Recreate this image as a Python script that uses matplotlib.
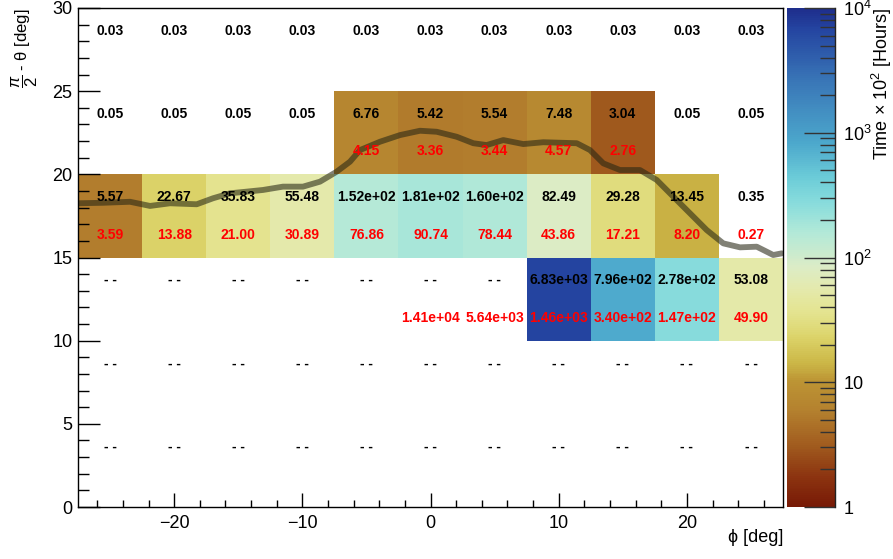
import numpy as np
import matplotlib
matplotlib.use('Agg')
from matplotlib import pyplot as plt
from matplotlib.colors import LinearSegmentedColormap, LogNorm
from matplotlib.ticker import FixedLocator, LogLocator, NullFormatter

plt.rcParams['font.family'] = ['Liberation Sans', 'DejaVu Sans']
plt.rcParams['mathtext.fontset'] = 'custom'
plt.rcParams['mathtext.rm'] = 'Liberation Sans'
plt.rcParams['mathtext.it'] = 'Liberation Sans:italic'

# bin edges (phi, pi/2 - theta)
phi_edges = np.arange(-27.5, 27.6, 5)
theta_edges = np.arange(0, 30.1, 5)

# black numbers (top of each cell), rows from bottom (0-5) to top (25-30)
N = None
time_top = [
    [N, N, N, N, N, N, N, N, N, N, N],
    [N, N, N, N, N, N, N, N, N, N, N],
    [N, N, N, N, N, N, N, 6830, 796, 278, 53.08],
    [5.57, 22.67, 35.83, 55.48, 152, 181, 160, 82.49, 29.28, 13.45, 0.35],
    [0.05, 0.05, 0.05, 0.05, 6.76, 5.42, 5.54, 7.48, 3.04, 0.05, 0.05],
    [0.03, 0.03, 0.03, 0.03, 0.03, 0.03, 0.03, 0.03, 0.03, 0.03, 0.03],
]
# red numbers (bottom of each cell)
time_bot = [
    [N, N, N, N, N, N, N, N, N, N, N],
    [N, N, N, N, N, N, N, N, N, N, N],
    [N, N, N, N, N, 14100, 5640, 1460, 340, 147, 49.90],
    [3.59, 13.88, 21.00, 30.89, 76.86, 90.74, 78.44, 43.86, 17.21, 8.20, 0.27],
    [N, N, N, N, 4.15, 3.36, 3.44, 4.57, 2.76, N, N],
    [N, N, N, N, N, N, N, N, N, N, N],
]

# overlay curve
curve_phi = [-27.48, -25.55, -23.44, -21.88, -20.32, -18.24, -16.97, -15.64, -14.34,
             -13.07, -11.51, -9.95, -8.62, -7.32, -6.28, -5.50, -3.94, -2.38, -0.82,
             0.48, 2.04, 3.34, 4.38, 5.68, 7.24, 8.80, 11.41, 12.44, 13.48, 14.78,
             16.34, 17.65, 18.94, 20.24, 21.55, 22.84, 24.15, 25.45, 26.74, 27.40]
curve_theta = [18.26, 18.29, 18.35, 18.10, 18.26, 18.20, 18.56, 18.86, 18.96,
               19.06, 19.26, 19.26, 19.56, 20.16, 20.76, 21.46, 21.96, 22.36, 22.62,
               22.56, 22.26, 21.87, 21.76, 22.06, 21.82, 21.93, 21.87, 21.46, 20.66, 20.26,
               20.26, 19.66, 18.66, 17.66, 16.65, 15.85, 15.61, 15.65, 15.15, 15.25]

# palette similar to the ROOT one
anchors = [(0.0, '#781a06'), (0.06, '#8c3410'), (0.12, '#a05a1e'), (0.19, '#b4802e'),
           (0.25, '#bc9434'), (0.29, '#ccb848'), (0.34, '#dcd46a'), (0.39, '#e4e490'),
           (0.44, '#e4eaae'), (0.48, '#dcecc6'), (0.55, '#b2e9d8'), (0.61, '#88dcdc'),
           (0.66, '#6cccd8'), (0.73, '#4ca8cc'), (0.85, '#3a78b8'), (0.96, '#2444a0'),
           (1.0, '#1e2e8c')]
cmap = LinearSegmentedColormap.from_list('pal', anchors)
cmap.set_under('white')
cmap.set_bad('white')

top = np.array([[np.nan if v is None else v for v in r] for r in time_top], dtype=float)
vals = np.ma.masked_invalid(top)
vals = np.ma.masked_less(vals, 1)

fig = plt.figure(figsize=(8.93, 5.59), dpi=100)
ax = fig.add_axes([78 / 893, 52 / 559, 705 / 893, 499 / 559])
mesh = ax.pcolormesh(phi_edges, theta_edges, vals, cmap=cmap,
                     norm=LogNorm(vmin=1, vmax=1e4))

ax.plot(curve_phi, curve_theta, color='#262614', alpha=0.58, lw=4.2,
        solid_capstyle='round', solid_joinstyle='round')

# cell labels
phi_c = (phi_edges[:-1] + phi_edges[1:]) / 2
theta_c = (theta_edges[:-1] + theta_edges[1:]) / 2


def fmt(v):
    return '%.2e' % v if v >= 100 else '%.2f' % v


for i, yc in enumerate(theta_c):
    for j, xc in enumerate(phi_c):
        v = time_top[i][j]
        ax.text(xc, yc + 1.12, '- -' if v is None else fmt(v), ha='center', va='center',
                fontsize=10, fontweight='bold', color='black')
        w = time_bot[i][j]
        if w is not None:
            ax.text(xc, yc - 1.12, fmt(w), ha='center', va='center',
                    fontsize=10, fontweight='bold', color='red')

ax.set_xlim(-27.5, 27.5)
ax.set_ylim(0, 30)
ax.set_xticks([-20, -10, 0, 10, 20])
ax.set_xticklabels(['\u221220', '\u221210', '0', '10', '20'])
ax.xaxis.set_minor_locator(FixedLocator(np.arange(-26, 27, 2)))
ax.set_yticks([0, 5, 10, 15, 20, 25, 30])
ax.yaxis.set_minor_locator(FixedLocator(np.arange(0, 31, 1)))
ax.tick_params(which='major', direction='in', width=1, labelsize=13)
ax.tick_params(axis='x', which='major', length=10, pad=6)
ax.tick_params(axis='x', which='minor', direction='in', length=5, width=1)
ax.tick_params(axis='y', which='major', length=16, pad=4)
ax.tick_params(axis='y', which='minor', direction='in', length=8, width=1)
for s in ax.spines.values():
    s.set_linewidth(1)

ax.set_xlabel('\u03d5 [deg]', fontsize=13, loc='right')
ax.xaxis.set_label_coords(1.0, -0.045)
ax.set_ylabel(r'$\dfrac{\pi}{2}$' + ' - \u03b8 [deg]', fontsize=12, loc='top')
ax.yaxis.set_label_coords(-0.054, 1.0)

# colour scale
cax = fig.add_axes([787 / 893, 52 / 559, 48 / 893, 499 / 559])
cb = fig.colorbar(mesh, cax=cax)
cb.outline.set_visible(False)
cax.plot([1, 1], [0, 1], transform=cax.transAxes, color='#222222', lw=1, clip_on=False)
cax.yaxis.set_ticks_position('right')
cb.set_ticks([1, 10, 100, 1000, 10000])
cb.set_ticklabels(['1', '10', '$10^{2}$', '$10^{3}$', '$10^{4}$'])
cax.yaxis.set_minor_locator(LogLocator(base=10, subs=np.arange(2, 10)))
cax.yaxis.set_minor_formatter(NullFormatter())
cax.tick_params(which='major', direction='in', length=22, width=1, labelsize=13, pad=6,
                color='#333333')
cax.tick_params(which='minor', direction='in', length=11, width=1, color='#333333')
cax.set_ylabel('Time \u00d7 10$^{2}$ [Hours]', fontsize=13, loc='top')
cax.yaxis.set_label_coords(1.72, 1.0)

plt.savefig('out.png', dpi=100)
